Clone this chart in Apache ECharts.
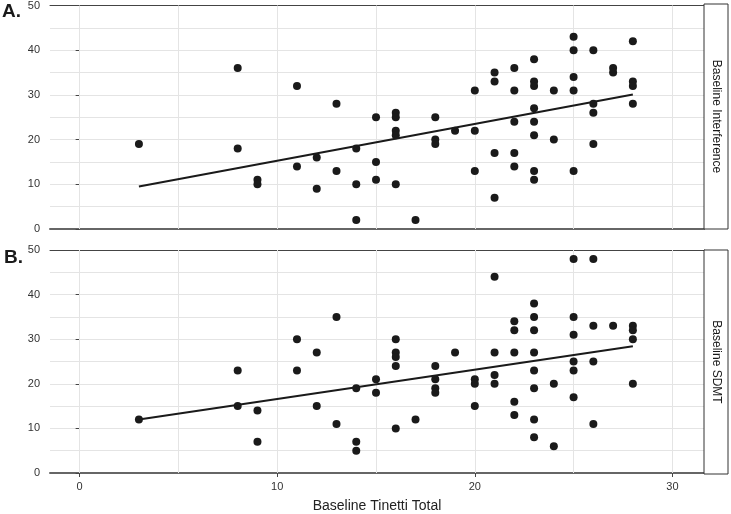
<!DOCTYPE html>
<html>
<head>
<meta charset="utf-8">
<script src="https://cdn.jsdelivr.net/npm/echarts@6/dist/echarts.min.js"></script>
<style>html,body{margin:0;padding:0;background:#fff}#c{width:731px;height:514px}</style>
</head>
<body>
<div id="c"></div>
<script>
// ---- Data ----
const tinettiA = [3,8,8,9,9,11,11,12,12,13,13,14,14,14,15,15,15,16,16,16,16,16,17,18,18,18,19,20,20,20,21,21,21,21,22,22,22,22,22,23,23,23,23,23,23,23,23,24,24,25,25,25,25,25,26,26,26,26,27,27,28,28,28,28];
const interference = [19,36,18,11,10,32,14,16,9,28,13,18,10,2,25,15,11,26,25,22,21,10,2,25,20,19,22,31,22,13,35,33,17,7,36,31,24,17,14,38,33,32,27,24,21,13,11,31,20,43,40,34,31,13,40,28,26,19,36,35,42,33,32,28];
const tinettiB = [3,8,8,9,9,11,11,12,12,13,13,14,14,14,15,15,16,16,16,16,16,17,18,18,18,18,19,20,20,20,21,21,21,21,22,22,22,22,22,23,23,23,23,23,23,23,23,24,24,25,25,25,25,25,25,26,26,26,26,27,28,28,28,28];
const sdmt = [12,23,15,14,7,30,23,27,15,35,11,19,7,5,21,18,30,27,26,24,10,12,24,21,19,18,27,21,20,15,44,27,22,20,34,32,27,16,13,38,35,32,27,23,19,12,8,20,6,48,35,31,25,23,17,48,33,25,11,33,33,32,30,20];
const trendX = [3, 28];
const trendA = [9.5, 30.1];
const trendB = [12.0, 28.4];
const xTickLabels = [0, 10, 20, 30];
const xGridValues = [0, 5, 10, 15, 20, 25, 30];
const panelLabels = ['Baseline Interference', 'Baseline SDMT'];
const panelTags = ['A.', 'B.'];
const xTitle = 'Baseline Tinetti Total';

// ---- Layout ----
const FONT = "'Liberation Sans', Arial, sans-serif";
const L = 50, R = 704, STRIP_R = 728;
const panels = [{top: 4, bottom: 229}, {top: 250, bottom: 474}];
const XMIN = -1.5, XMAX = 31.6;

const chart = echarts.init(document.getElementById('c'), null, {renderer: 'canvas'});

function zip(a, b) { return a.map((v, i) => [v, b[i]]); }

const grids = panels.map(p => ({left: L, right: 731 - R, top: p.top, height: p.bottom - p.top, containLabel: false}));

const xAxes = [];
const yAxes = [];
panels.forEach((p, i) => {
  const isBottom = i === panels.length - 1;
  xAxes.push({
    type: 'value', gridIndex: i, min: XMIN, max: XMAX, position: 'bottom',
    axisLine: {show: true, onZero: false, lineStyle: {color: '#666', width: 2}},
    axisTick: isBottom ? {show: true, customValues: xTickLabels, length: 4, lineStyle: {color: '#444'}} : {show: false},
    axisLabel: isBottom ? {show: true, customValues: xTickLabels, color: '#333', fontSize: 11, fontFamily: FONT, margin: 8} : {show: false},
    splitLine: {show: false},
    name: isBottom ? xTitle : '', nameLocation: 'middle', nameGap: 26,
    nameTextStyle: {fontSize: 14, color: '#222', fontFamily: FONT}
  });
  xAxes.push({
    type: 'value', gridIndex: i, min: XMIN, max: XMAX, position: 'top',
    axisLine: {show: true, onZero: false, lineStyle: {color: '#444', width: 1}},
    axisTick: {show: false}, axisLabel: {show: false}, splitLine: {show: false}
  });
  yAxes.push({
    type: 'value', gridIndex: i, min: 0, max: 50, interval: 10, position: 'left',
    axisLine: {show: false},
    axisTick: {show: true, length: 4, lineStyle: {color: '#444'}},
    axisLabel: {color: '#333', fontSize: 11, fontFamily: FONT, margin: 10},
    splitLine: {show: true, lineStyle: {color: '#e4e4e4', width: 1}},
    minorTick: {show: false, splitNumber: 2},
    minorSplitLine: {show: true, lineStyle: {color: '#e4e4e4', width: 1}}
  });
  yAxes.push({
    type: 'value', gridIndex: i, min: 0, max: 50, position: 'right',
    axisLine: {show: true, onZero: false, lineStyle: {color: '#444', width: 1}},
    axisTick: {show: false}, axisLabel: {show: false}, splitLine: {show: false}
  });
});

const scatterData = [zip(tinettiA, interference), zip(tinettiB, sdmt)];
const trendData = [zip(trendX, trendA), zip(trendX, trendB)];

const series = [];
panels.forEach((p, i) => {
  series.push({
    type: 'line', xAxisIndex: i * 2, yAxisIndex: i * 2, data: trendData[i],
    showSymbol: false, symbol: 'none', z: 2,
    lineStyle: {color: '#1a1a1a', width: 2},
    markLine: {
      silent: true, symbol: ['none', 'none'], z: 1, animation: false,
      label: {show: false},
      lineStyle: {color: '#e4e4e4', width: 1, type: 'solid'},
      emphasis: {disabled: true},
      data: xGridValues.map(v => ({xAxis: v}))
    }
  });
  series.push({
    type: 'scatter', xAxisIndex: i * 2, yAxisIndex: i * 2, data: scatterData[i],
    symbol: 'circle', symbolSize: 8, z: 3,
    itemStyle: {color: '#1a1a1a', opacity: 1}
  });
});

const graphic = [];
panels.forEach((p, i) => {
  graphic.push({
    type: 'rect', shape: {x: R, y: p.top, width: STRIP_R - R, height: p.bottom - p.top},
    style: {fill: '#fff', stroke: '#333', lineWidth: 1}, z: 10
  });
  graphic.push({
    type: 'text', x: (R + STRIP_R) / 2, y: (p.top + p.bottom) / 2, rotation: -Math.PI / 2,
    style: {text: panelLabels[i], fontSize: 12, fontFamily: FONT, fill: '#1a1a1a', textAlign: 'center', textVerticalAlign: 'middle'},
    z: 11
  });
  graphic.push({
    type: 'text', x: i === 0 ? 2 : 4, y: p.top + 8,
    style: {text: panelTags[i], fontSize: 19, fontWeight: 'bold', fontFamily: FONT, fill: '#1a1a1a', textAlign: 'left', textVerticalAlign: 'middle'},
    z: 11
  });
});

chart.setOption({
  animation: false,
  backgroundColor: '#fff',
  textStyle: {fontFamily: FONT},
  grid: grids,
  xAxis: xAxes,
  yAxis: yAxes,
  series: series,
  graphic: graphic
});
</script>
</body>
</html>
